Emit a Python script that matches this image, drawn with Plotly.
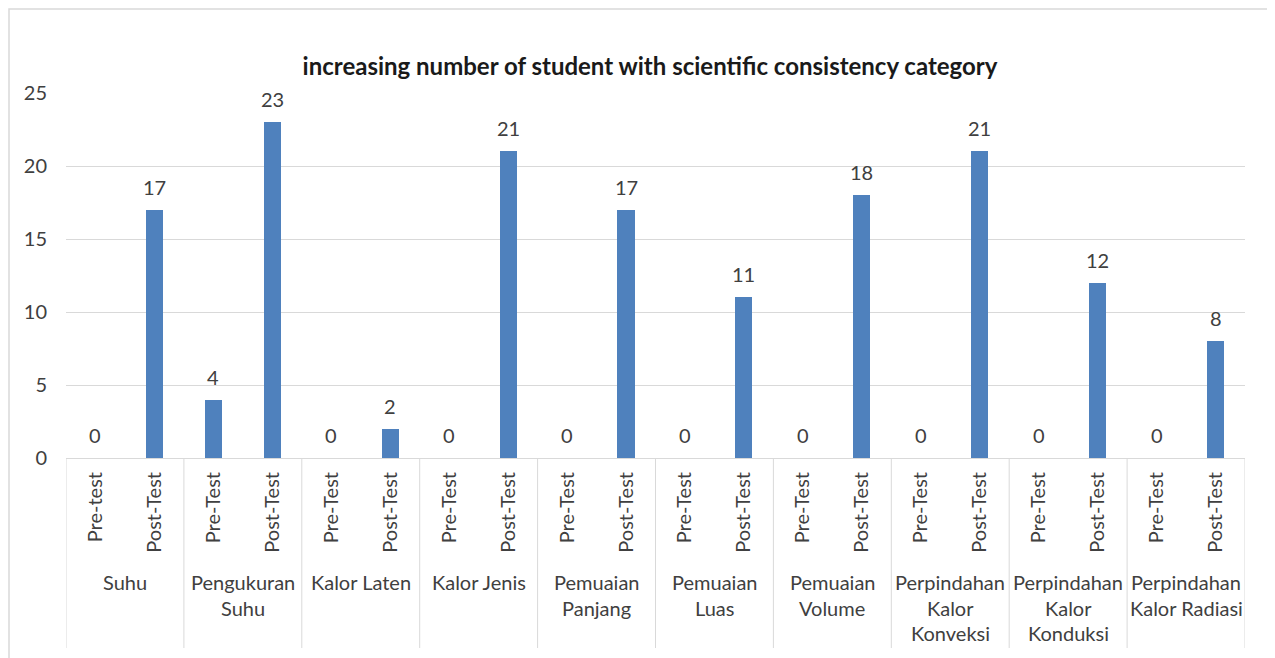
import plotly.graph_objects as go

groups = ["Suhu", "Pengukuran\nSuhu", "Kalor Laten", "Kalor Jenis", "Pemuaian\nPanjang",
          "Pemuaian\nLuas", "Pemuaian\nVolume", "Perpindahan\nKalor\nKonveksi",
          "Perpindahan\nKalor\nKonduksi", "Perpindahan\nKalor Radiasi"]
pre_labels = ["Pre-test"] + ["Pre-Test"] * 9
post_labels = ["Post-Test"] * 10
pre_values = [0, 4, 0, 0, 0, 0, 0, 0, 0, 0]
post_values = [17, 23, 2, 21, 17, 11, 18, 21, 12, 8]
title_text = "increasing number of student with scientific consistency category"

# page body has an 8px margin; work in reference pixel coords and shift
OFF = 8
W, H = 1275 - OFF, 658 - OFF
PL, PR, PT, PB = 66, 1245, 93, 458          # plot area in reference pixels
ML, MR, MT, MB = PL - OFF, W - (PR - OFF), PT - OFF, H - (PB - OFF)
PW, PH = PR - PL, PB - PT

def px_x(p):
    return (p - PL) / PW

def px_y(p):
    return (PB - p) / PH

xs, ys, labels = [], [], []
for i in range(len(groups)):
    xs += [2 * i, 2 * i + 1]
    ys += [pre_values[i], post_values[i]]
    labels += [pre_labels[i], post_labels[i]]

FONT = "Lato"
TXT = "#404040"
fig = go.Figure(go.Bar(
    x=xs, y=ys, width=0.29, marker=dict(color="#4f81bd", line=dict(width=0)),
    cliponaxis=False, hoverinfo="x+y",
))

shapes = []
for k in range(len(groups) + 1):
    shapes.append(dict(type="line", xref="x", yref="paper", x0=2 * k - 0.5, x1=2 * k - 0.5,
                       y0=0, y1=px_y(648), line=dict(color="#d9d9d9", width=1)))
shapes.append(dict(type="rect", xref="paper", yref="paper", x0=px_x(9), x1=px_x(1272),
                   y0=px_y(9), y1=px_y(670), line=dict(color="#d9d9d9", width=1.5), layer="below"))

annotations = []
# data labels
for x, v in zip(xs, ys):
    annotations.append(dict(x=x, y=v, xref="x", yref="y", text=str(v), showarrow=False,
                            yanchor="middle", xanchor="center", yshift=23,
                            font=dict(family=FONT, size=20, color=TXT)))
# group labels
for i, g in enumerate(groups):
    for j, line in enumerate(g.split("\n")):
        annotations.append(dict(x=2 * i + 0.5, xref="x", yref="paper", y=px_y(582 + 25.5 * j),
                                text=line, showarrow=False, yanchor="middle", xanchor="center",
                                font=dict(family=FONT, size=20, color=TXT)))

fig.update_layout(
    width=W, height=H, margin=dict(l=ML, r=MR, t=MT, b=MB, autoexpand=False),
    paper_bgcolor="white", plot_bgcolor="white", showlegend=False,
    title=dict(text="<b>" + title_text + "</b>", x=(650 - OFF) / W, xanchor="center",
               y=1 - (67 - OFF) / H, yanchor="middle",
               font=dict(family=FONT, size=24, color="#1a1a1a")),
    xaxis=dict(range=[-0.5, 2 * len(groups) - 0.5], tickvals=xs, ticktext=labels, tickangle=-90,
               showgrid=False, zeroline=False, showline=True, linecolor="#d9d9d9",
               ticks="", ticklabelstandoff=5,
               tickfont=dict(family=FONT, size=20, color=TXT)),
    yaxis=dict(range=[0, 25], dtick=5, showgrid=True, gridcolor="#d9d9d9", zeroline=False,
               showline=False, ticks="", ticklabelstandoff=18,
               tickfont=dict(family=FONT, size=20, color=TXT)),
    shapes=shapes, annotations=annotations, bargap=0,
)
fig.write_html("out.html")
